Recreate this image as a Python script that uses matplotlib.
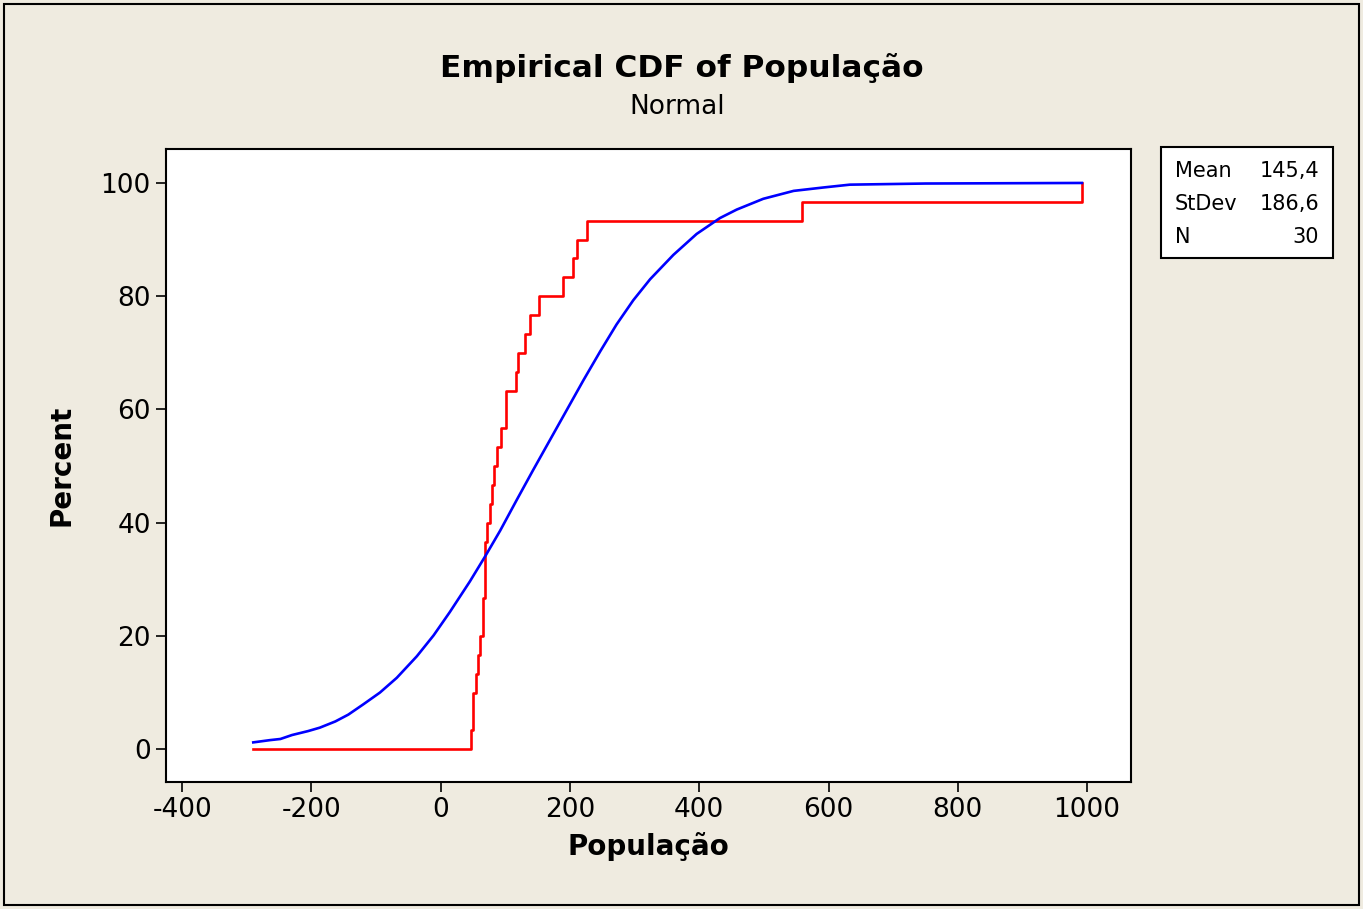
"""
Empirical CDF of População with fitted normal curve (Minitab style).
"""

import matplotlib.pyplot as plt
from matplotlib.patches import Rectangle

# sorted sample values, N = 30
pop_values = [47.0, 50.6, 50.6, 54.3, 57.9, 61.5, 65.1, 65.1, 68.7, 68.7,
              68.7, 72.3, 75.9, 79.5, 83.1, 86.7, 93.9, 101.0, 101.0, 116.6,
              120.2, 131.0, 138.3, 152.7, 189.9, 204.3, 211.5, 227.0, 559.0, 992.0]
x_start = -290.0

# fitted normal curve
fit_x = [-290, -264, -248, -230, -205, -187, -163, -143, -120, -94, -68, -37,
         -11, 14, 45, 69, 92, 118, 143, 169, 195, 221, 247, 272, 298, 324,
         360, 396, 432, 458, 499, 546, 592, 633, 750, 992]
fit_pct = [1.2, 1.6, 1.8, 2.5, 3.2, 3.8, 4.9, 6.1, 7.9, 10.0, 12.6, 16.4,
           20.1, 24.2, 29.6, 34.1, 38.6, 44.1, 49.3, 54.6, 59.9, 65.2, 70.3,
           75.0, 79.3, 83.0, 87.3, 91.0, 93.8, 95.3, 97.2, 98.6, 99.2, 99.7,
           99.9, 100.0]

stats_labels = ["Mean", "StDev", "N"]
stats_values = ["145,4", "186,6", "30"]

xticks = [-400, -200, 0, 200, 400, 600, 800, 1000]
yticks = [0, 20, 40, 60, 80, 100]

bg = "#efebe0"
plt.rcParams["font.family"] = ["DejaVu Sans"]
plt.rcParams["axes.unicode_minus"] = False

fig = plt.figure(figsize=(13.63, 9.09), dpi=100, facecolor=bg)
fig.patches.append(Rectangle((0.003, 0.004), 0.994, 0.992, transform=fig.transFigure,
                             fill=False, edgecolor="black", linewidth=1.5))

ax = fig.add_axes([0.1218, 0.1397, 0.7080, 0.6964])
ax.set_facecolor("white")

# step line of the empirical CDF
n = len(pop_values)
sx = [x_start]
sy = [0.0]
for i, v in enumerate(pop_values):
    sx += [v, v]
    sy += [100.0 * i / n, 100.0 * (i + 1) / n]
ax.plot(sx, sy, color="#ff0000", linewidth=1.9)
ax.plot(fit_x, fit_pct, color="#0000ff", linewidth=1.9)

ax.set_xlim(-425, 1068)
ax.set_ylim(-5.8, 106)
ax.set_xticks(xticks)
ax.set_yticks(yticks)
ax.tick_params(direction="out", length=7, width=1.2, labelsize=19, pad=4)
for s in ax.spines.values():
    s.set_linewidth(1.5)

ax.set_xlabel("População", fontsize=20, fontweight="bold", labelpad=6)
ax.set_ylabel("Percent", fontsize=20, fontweight="bold", labelpad=18)

fig.text(0.5, 0.925, "Empirical CDF of População", ha="center", va="center",
         fontsize=22.5, fontweight="bold")
fig.text(0.497, 0.882, "Normal", ha="center", va="center", fontsize=19)

# stats box
fig.patches.append(Rectangle((1161 / 1363, 1 - 258 / 909), 172 / 1363, 111 / 909,
                             transform=fig.transFigure, facecolor="white",
                             edgecolor="black", linewidth=1.5))
for i, (lab, val) in enumerate(zip(stats_labels, stats_values)):
    yy = 1 - (171 + i * 33) / 909
    fig.text(1175 / 1363, yy, lab, ha="left", va="center", fontsize=15)
    fig.text(1319 / 1363, yy, val, ha="right", va="center", fontsize=15)

fig.savefig("out.png", dpi=100, facecolor=bg)
